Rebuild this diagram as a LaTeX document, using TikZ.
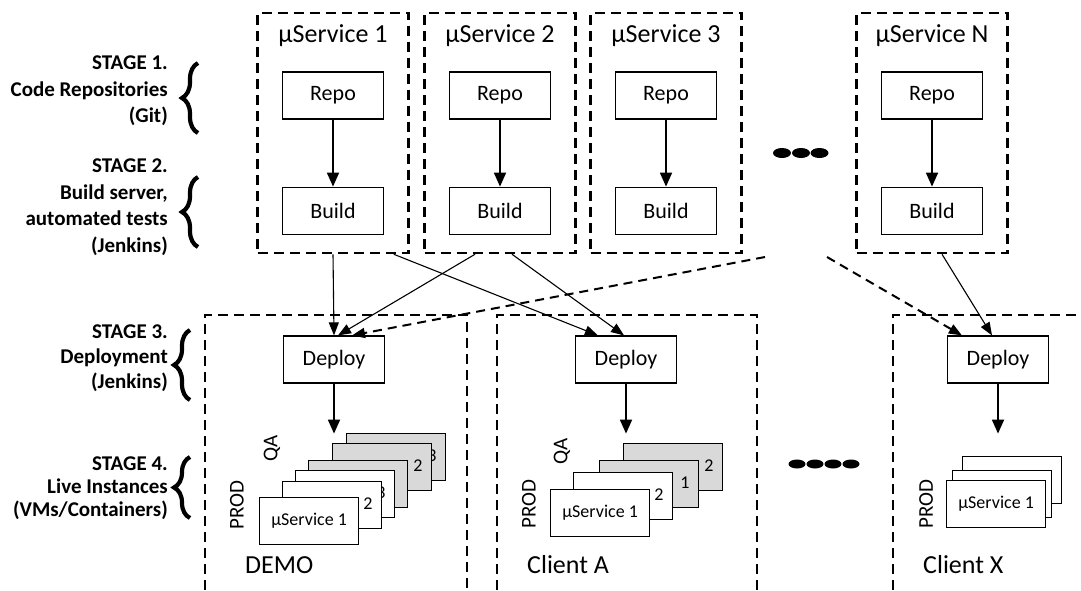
\documentclass[tikz,border=0pt]{standalone}
\usepackage{fontspec}
\setmainfont{Carlito}
\usetikzlibrary{calc, positioning, arrows.meta, decorations.pathreplacing}

\tikzset{
	bigdash/.style={line width=2.5pt, dash pattern=on 10pt off 6pt},
	svcbox/.style={draw, bigdash, minimum width=151pt, minimum height=240pt, inner sep=0pt},
	stepbox/.style={draw, line width=1.2pt, minimum width=101pt, minimum height=47pt, inner sep=0pt, font=\fontsize{22}{26}\selectfont},
	vmbox/.style={draw, line width=1.2pt, anchor=north west, minimum width=99pt, minimum height=47pt, inner sep=0pt, font=\fontsize{18}{20}\selectfont},
	backbox/.style={vmbox, label={[label distance=-19pt, inner sep=0pt, font=\fontsize{18}{20}\selectfont, yshift=1pt]0:#1}},
	flow/.style={-{Triangle[length=14pt,width=12pt]}, line width=1.8pt},
	link/.style={-{Triangle[length=13pt,width=10pt]}, line width=1.1pt},
	stage/.style={anchor=east, align=right, inner sep=0pt, font=\fontsize{21}{26.5}\bfseries\selectfont},
	envlabel/.style={anchor=west, inner sep=0pt, font=\fontsize{26}{30}\selectfont},
	vert/.style={rotate=90, inner sep=0pt, font=\fontsize{21}{24}\selectfont},
	stagebrace/.style={decorate, decoration={brace, amplitude=16pt}, line width=4.2pt}
}

\begin{document}
\begin{tikzpicture}[x=1pt, y=-1pt]
	\useasboundingbox (0,0) rectangle (1081,590);

	% stage labels
	\node[stage] (stage1) at (168,91) {STAGE 1.\\Code Repositories\\(Git)};
	\node[stage] (stage2) at (168,207) {STAGE 2.\\Build server,\\automated tests\\(Jenkins)};
	\node[stage, font=\fontsize{21}{25}\bfseries\selectfont] (stage3) at (168,358) {STAGE 3.\\Deployment\\(Jenkins)};
	\node[stage, font=\fontsize{21}{23}\bfseries\selectfont] (stage4) at (168,488) {STAGE 4.\\Live Instances\\(VMs/Containers)};
	\draw[stagebrace] (198,133) -- (198,63);
	\draw[stagebrace] (198,247) -- (198,177);
	\draw[stagebrace] (190,400) -- (190,330);
	\draw[stagebrace] (190,518) -- (190,457);

	% microservices
	\foreach \n/\x in {1/333, 2/500, 3/666, N/932}{
			\node[svcbox] (svc\n) at (\x,133) {};
			\node[font=\fontsize{26}{30}\selectfont] (title\n) at (\x,36) {µService \n};
			\node[stepbox] (repo\n) at (\x,95.5) {Repo};
			\node[stepbox, below=67pt of repo\n] (build\n) {Build};
			\draw[flow] (repo\n) -- (build\n);
		}
	\foreach \x in {782,801,819.5}{
			\fill (\x,153) ellipse [x radius=9pt, y radius=5pt];
		}

	% environments
	\draw[bigdash] (205,590) -- (205,315) -- (467,315) -- (467,590);
	\draw[bigdash] (497,590) -- (497,315) -- (757,315) -- (757,590);
	\draw[bigdash] (893,590) -- (893,315) -- (1085,315);
	\foreach \x in {797,815,833,851}{
			\fill (\x,464) ellipse [x radius=8.5pt, y radius=4.5pt];
		}

	\node[stepbox] (deployDemo) at (334,359.5) {Deploy};
	\node[stepbox] (deployA) at (626,359.5) {Deploy};
	\node[stepbox] (deployX) at (998,359.5) {Deploy};

	% build -> deploy
	\coordinate (more1) at (765,257);
	\coordinate (more2) at (827,257);
	\draw[link] (svc1.south) -- (deployDemo.north);
	\draw[link] ($(svc1.south east)+(-16,0)$) -- ($(deployA.north west)+(23,0)$);
	\draw[link] ($(svc2.south)+(-25,0)$) -- ($(deployDemo.north)+(4,0)$);
	\draw[link] ($(svc2.south)+(12,0)$) -- ($(deployA.north)+(-2,0)$);
	\draw[link, line width=2pt, dash pattern=on 9pt off 6pt] (more1) -- ($(deployDemo.north)+(18,0)$);
	\draw[link, line width=2pt, dash pattern=on 9pt off 6pt] (more2) -- ($(deployX.north west)+(15,0)$);
	\draw[link] ($(svcN.south)+(10,0)$) -- ($(deployX.north)+(-6,0)$);

	% deploy -> instances
	\coordinate[below=50pt of deployDemo.south] (demoIn);
	\coordinate[below=50pt of deployA.south] (aIn);
	\coordinate[below=50pt of deployX.south] (xIn);
	\draw[flow] (deployDemo) -- (demoIn);
	\draw[flow] (deployA) -- (aIn);
	\draw[flow] (deployX) -- (xIn);

	\foreach \nm/\x/\y/\c/\t in {Q3/346/433/black!15/3, Q2/332/443/black!15/2}{
			\node[backbox=\t, fill=\c] (demo\nm) at (\x,\y) {};
		}
	\node[vmbox, fill=black!15] (demoQ1) at (308,460) {};
	\foreach \nm/\x/\y/\c/\t in {P3/295/470/white/3, P2/282/481/white/2}{
			\node[backbox=\t, fill=\c] (demo\nm) at (\x,\y) {};
		}
	\node[vmbox, fill=white] (demoP1) at (259,497) {µService 1};
	\foreach \nm/\x/\y/\c/\t in {Q2/623/443/black!15/2, Q1/599/460/black!15/1, P2/573/472/white/2}{
			\node[backbox=\t, fill=\c] (a\nm) at (\x,\y) {};
		}
	\node[vmbox, fill=white] (aP1) at (550,489) {µService 1};
	\node[vmbox, fill=white] (xP3) at (962,456) {};
	\node[vmbox, fill=white] (xP2) at (952,470) {};
	\node[vmbox, fill=white] (xP1) at (946,480) {µService 1};

	\node[vert] (demoProd) at (237,505) {PROD};
	\node[vert] (demoQa) at (272,448) {QA};
	\node[vert] (aProd) at (529,504) {PROD};
	\node[vert] (aQa) at (562,451) {QA};
	\node[vert] (xProd) at (926,504) {PROD};

	\node[envlabel] (demoName) at (245,565) {DEMO};
	\node[envlabel] (aName) at (527,565) {Client A};
	\node[envlabel] (xName) at (923,565) {Client X};

\end{tikzpicture}
\end{document}
